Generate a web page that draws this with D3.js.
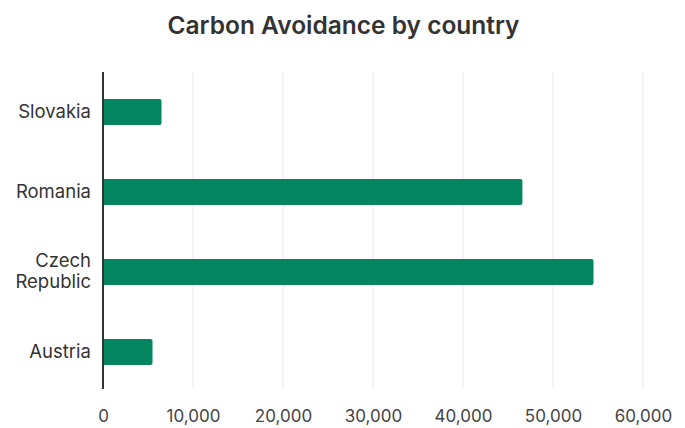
<!DOCTYPE html>
<html>
<head>
<meta charset="utf-8">
<script src="https://cdn.jsdelivr.net/npm/d3@7"></script>
<style>
  body { margin: 0; background: #fff; }
  text { font-family: Inter, "Noto Sans", sans-serif; }
</style>
</head>
<body>
<div id="chart"></div>
<script>
var countries = ["Slovakia", "Romania", "Czech Republic", "Austria"];
var avoidance = [6500, 46600, 54500, 5500];
var xTicks = [0, 10000, 20000, 30000, 40000, 50000, 60000];

var W = 685, H = 428;
var margin = {top: 72, right: 42, bottom: 36, left: 103},
    width = W - margin.left - margin.right,
    height = H - margin.top - margin.bottom;

var svg = d3.select("#chart")
  .append("svg")
    .attr("width", W)
    .attr("height", H);

svg.append("text")
  .attr("x", W / 2 + 1)
  .attr("y", 34)
  .attr("text-anchor", "middle")
  .attr("font-size", "24.5px")
  .attr("font-weight", "600")
  .attr("fill", "#333")
  .text("Carbon Avoidance by country");

var g = svg.append("g")
  .attr("transform", "translate(" + margin.left + "," + margin.top + ")");

var x = d3.scaleLinear()
  .domain([0, 60000])
  .range([0, 540]);

var y = d3.scaleBand()
  .domain(countries)
  .range([0, 320])
  .paddingInner(0.675)
  .paddingOuter(0.3375);

// gridlines
g.append("g")
  .selectAll("line")
  .data(xTicks.slice(1))
  .enter()
  .append("line")
    .attr("x1", function(d) { return x(d); })
    .attr("x2", function(d) { return x(d); })
    .attr("y1", 0)
    .attr("y2", 317)
    .attr("stroke", "#e5e8ee")
    .attr("stroke-width", 1);

// x tick labels
var xAxis = g.append("g")
  .attr("transform", "translate(0,317)")
  .call(d3.axisBottom(x).tickValues(xTicks).tickSize(0).tickPadding(21).tickFormat(d3.format(",")));
xAxis.select(".domain").remove();
xAxis.selectAll("text")
  .attr("font-size", "17px")
  .attr("fill", "#444")
  .style("font-family", "Inter, sans-serif");

// bars
g.append("g")
  .selectAll("path")
  .data(countries)
  .enter()
  .append("path")
    .attr("d", function(d, i) {
      var x0 = 0, x1 = x(avoidance[i]), y0 = y(d), h = y.bandwidth(), r = 2;
      return "M" + x0 + "," + y0 +
        "H" + (x1 - r) + "Q" + x1 + "," + y0 + " " + x1 + "," + (y0 + r) +
        "V" + (y0 + h - r) + "Q" + x1 + "," + (y0 + h) + " " + (x1 - r) + "," + (y0 + h) +
        "H" + x0 + "Z";
    })
    .attr("fill", "#03855f");

// y labels
var yAxis = g.append("g")
  .call(d3.axisLeft(y).tickSize(0).tickPadding(12));
yAxis.select(".domain").remove();
yAxis.selectAll(".tick text")
  .attr("font-size", "18.5px")
  .attr("fill", "#333")
  .style("font-family", "Inter, sans-serif")
  .each(function(d) {
    var words = d.split(" ");
    if (words.length > 1) {
      var t = d3.select(this).text(null);
      words.forEach(function(w, k) {
        t.append("tspan")
          .attr("x", -12)
          .attr("dy", k === 0 ? "-0.25em" : "1.14em")
          .text(w);
      });
    }
  });

// y axis line
g.append("line")
  .attr("x1", 0).attr("x2", 0)
  .attr("y1", 0).attr("y2", 317)
  .attr("stroke", "#333")
  .attr("stroke-width", 2);
</script>
</body>
</html>
